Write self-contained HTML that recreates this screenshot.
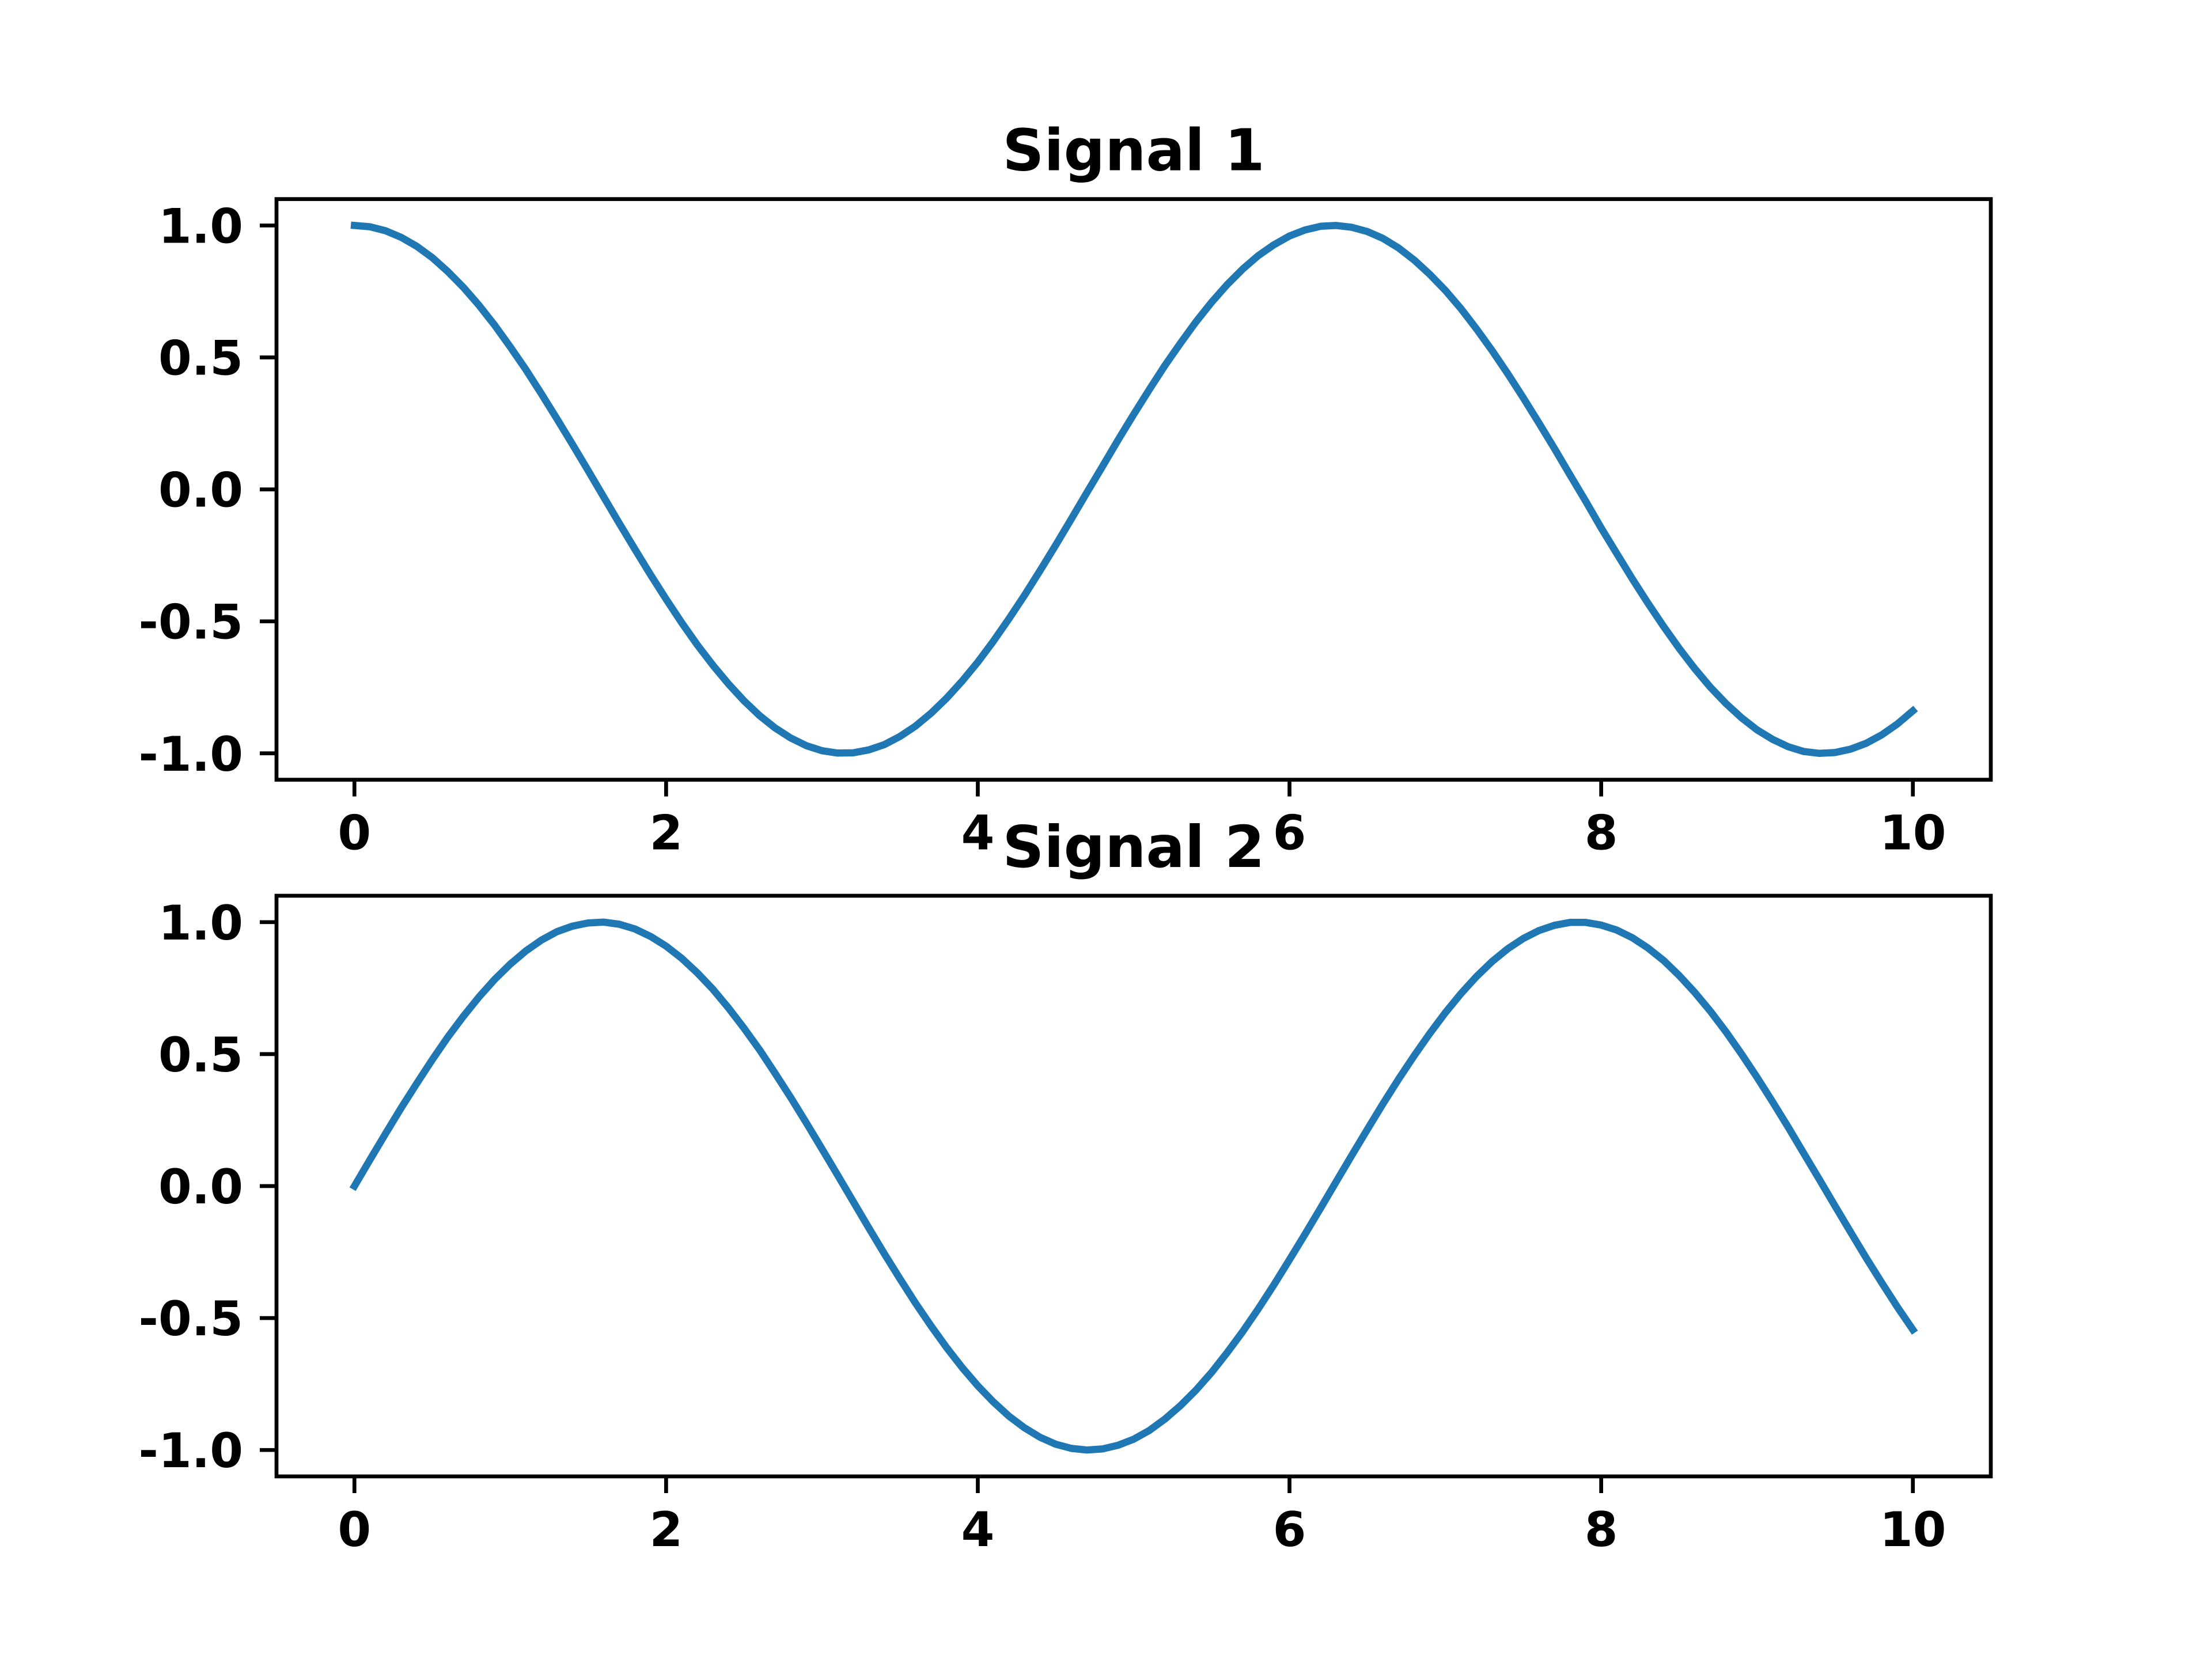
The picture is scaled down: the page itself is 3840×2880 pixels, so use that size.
<!DOCTYPE html>
<html><head><meta charset="utf-8"><style>
html,body{margin:0;padding:0;background:#fff;}
svg{display:block;}
text{font-family:"DejaVu Sans","Liberation Sans",sans-serif;font-weight:bold;fill:#000;}
</style></head><body>
<svg id="fig" width="3840" height="2880" viewBox="0 0 3840 2880" xmlns="http://www.w3.org/2000/svg"></svg>
<script>
const xValues = [0,0.1,0.2,0.3,0.4,0.5,0.6,0.7,0.8,0.9,1,1.1,1.2,1.3,1.4,1.5,1.6,1.7,1.8,1.9,2,2.1,2.2,2.3,2.4,2.5,2.6,2.7,2.8,2.9,3,3.1,3.2,3.3,3.4,3.5,3.6,3.7,3.8,3.9,4,4.1,4.2,4.3,4.4,4.5,4.6,4.7,4.8,4.9,5,5.1,5.2,5.3,5.4,5.5,5.6,5.7,5.8,5.9,6,6.1,6.2,6.3,6.4,6.5,6.6,6.7,6.8,6.9,7,7.1,7.2,7.3,7.4,7.5,7.6,7.7,7.8,7.9,8,8.1,8.2,8.3,8.4,8.5,8.6,8.7,8.8,8.9,9,9.1,9.2,9.3,9.4,9.5,9.6,9.7,9.8,9.9,10];
const signal1 = [1.000,0.995,0.980,0.955,0.921,0.878,0.825,0.765,0.697,0.622,0.540,0.454,0.362,0.267,0.170,0.071,-0.029,-0.129,-0.227,-0.323,-0.416,-0.505,-0.589,-0.666,-0.737,-0.801,-0.857,-0.904,-0.942,-0.971,-0.990,-0.999,-0.998,-0.987,-0.967,-0.936,-0.897,-0.848,-0.791,-0.726,-0.654,-0.575,-0.490,-0.401,-0.307,-0.211,-0.112,-0.012,0.087,0.187,0.284,0.378,0.469,0.554,0.635,0.709,0.776,0.835,0.886,0.927,0.960,0.983,0.997,1.000,0.993,0.977,0.951,0.915,0.869,0.815,0.754,0.685,0.608,0.526,0.439,0.347,0.252,0.155,0.055,-0.044,-0.146,-0.243,-0.339,-0.431,-0.519,-0.602,-0.679,-0.749,-0.811,-0.865,-0.911,-0.947,-0.975,-0.993,-1.000,-0.997,-0.984,-0.962,-0.930,-0.889,-0.839];
const signal2 = [0.000,0.100,0.199,0.296,0.389,0.479,0.565,0.644,0.717,0.783,0.841,0.891,0.932,0.964,0.985,0.997,1.000,0.992,0.974,0.946,0.909,0.863,0.808,0.746,0.675,0.598,0.516,0.427,0.335,0.239,0.141,0.042,-0.058,-0.158,-0.256,-0.351,-0.443,-0.530,-0.612,-0.688,-0.757,-0.818,-0.872,-0.916,-0.952,-0.978,-0.994,-1.000,-0.996,-0.982,-0.959,-0.926,-0.883,-0.832,-0.773,-0.706,-0.631,-0.551,-0.465,-0.374,-0.279,-0.182,-0.083,0.017,0.117,0.215,0.312,0.405,0.494,0.578,0.657,0.729,0.794,0.851,0.899,0.938,0.968,0.988,0.999,0.999,0.989,0.970,0.941,0.902,0.855,0.798,0.734,0.663,0.585,0.501,0.412,0.319,0.223,0.124,0.025,-0.075,-0.174,-0.272,-0.366,-0.458,-0.544];
const xTicks = [0,2,4,6,8,10];
const yTicks = [-1.0,-0.5,0.0,0.5,1.0];
const titles = ["Signal 1","Signal 2"];

const NS = "http://www.w3.org/2000/svg";
const svg = document.getElementById("fig");
function mk(tag, attrs, parent){
  const e = document.createElementNS(NS, tag);
  for (const k in attrs) e.setAttribute(k, attrs[k]);
  (parent||svg).appendChild(e);
  return e;
}
const L = 480, R = 3456, H = 1008;
const tops = [345.6, 1555];
const series = [signal1, signal2];
const xMin = -0.5, xMax = 10.5, yMin = -1.1, yMax = 1.1;

for (let p = 0; p < 2; p++) {
  const T = tops[p], B = T + H;
  const xs = v => L + (v - xMin) / (xMax - xMin) * (R - L);
  const ys = v => B - (v - yMin) / (yMax - yMin) * H;
  const g = mk("g", {});
  
  

  const pts = xValues.map((x, i) => xs(x).toFixed(1) + "," + ys(series[p][i]).toFixed(1)).join(" ");
  const line = mk("polyline", {points: pts, fill: "none", stroke: "#1f77b4", "stroke-width": 12.5, "stroke-linecap": "square", "stroke-linejoin": "round"}, g);
  
  

  const frame = mk("rect", {x: L, y: T, width: R - L, height: H, fill: "none", stroke: "#000", "stroke-width": 6.7}, g);
  
  

  xTicks.forEach(v => {
    const x = xs(v);
    mk("line", {x1: x, y1: B, x2: x, y2: B + 29, stroke: "#000", "stroke-width": 6.7}, g);
    const t = mk("text", {x: x, y: B + 121, "text-anchor": "middle", "font-size": 83}, g);
    t.textContent = String(v);
    
    
  });
  yTicks.forEach(v => {
    const y = ys(v);
    mk("line", {x1: L, y1: y, x2: L - 29, y2: y, stroke: "#000", "stroke-width": 6.7}, g);
    const t = mk("text", {x: L - 58, y: y + 30, "text-anchor": "end", "font-size": 83}, g);
    t.textContent = v.toFixed(1);
    
    
  });
  const title = mk("text", {x: (L + R) / 2, y: T - 50, "text-anchor": "middle", "font-size": 100}, g);
  title.textContent = titles[p];
  
  
}
</script>
</body></html>
